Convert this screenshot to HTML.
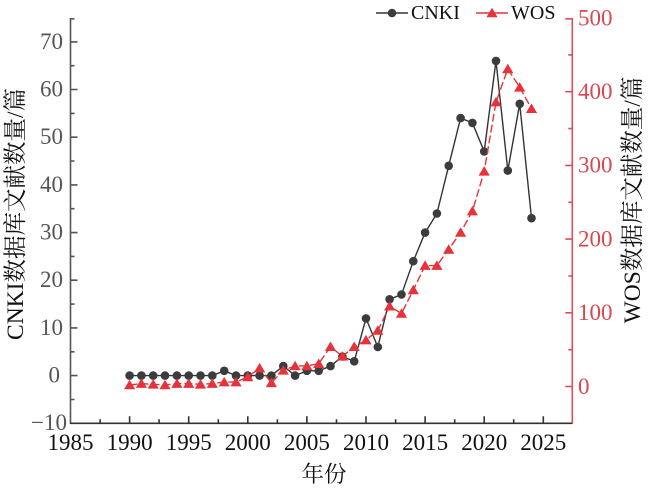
<!DOCTYPE html>
<html><head><meta charset="utf-8">
<style>
html,body{margin:0;padding:0;background:#fff;}
svg{display:block;}
text{font-family:"Liberation Serif","Noto Serif CJK SC","Noto Sans CJK SC",serif;}
</style></head>
<body>
<svg width="650" height="490" viewBox="0 0 650 490" xmlns="http://www.w3.org/2000/svg">
<rect width="650" height="490" fill="#fff"/>

<!-- left axis -->
<g stroke="#555" stroke-width="1.6" fill="none">
<line x1="70.5" y1="18" x2="70.5" y2="424"/>
<path d="M70.5 375.6h7M70.5 327.9h7M70.5 280.2h7M70.5 232.6h7M70.5 184.9h7M70.5 137.2h7M70.5 89.5h7M70.5 41.9h7
M70.5 399.5h4M70.5 351.8h4M70.5 304.1h4M70.5 256.4h4M70.5 208.7h4M70.5 161h4M70.5 113.4h4M70.5 65.7h4M70.5 18.8h4"/>
</g>
<g fill="#555" font-size="23" text-anchor="end">
<text x="63" y="49">70</text>
<text x="63" y="96.5">60</text>
<text x="63" y="144">50</text>
<text x="63" y="192">40</text>
<text x="63" y="239.5">30</text>
<text x="63" y="287">20</text>
<text x="63" y="335">10</text>
<text x="60" y="382.5">0</text>
<text x="67" y="430">−10</text>
</g>

<!-- right axis -->
<g stroke="#d9505a" stroke-width="1.6" fill="none">
<line x1="572.3" y1="18" x2="572.3" y2="424"/>
<path d="M572.3 386.5h-7M572.3 312.8h-7M572.3 239.1h-7M572.3 165.4h-7M572.3 91.7h-7M572.3 18.8h-7
M572.3 349.7h-4M572.3 276h-4M572.3 202.3h-4M572.3 128.6h-4M572.3 54.9h-4"/>
</g>
<g fill="#d9474f" font-size="23">
<text x="578" y="394">0</text>
<text x="578" y="320">100</text>
<text x="578" y="246.5">200</text>
<text x="578" y="172.5">300</text>
<text x="578" y="99">400</text>
<text x="578" y="25.5">500</text>
</g>

<!-- bottom axis -->
<g stroke="#333" stroke-width="1.6" fill="none">
<line x1="70" y1="423.3" x2="572" y2="423.3"/>
<path d="M129.6 423.3v-7M188.7 423.3v-7M247.8 423.3v-7M306.9 423.3v-7M366 423.3v-7M425.1 423.3v-7M484.2 423.3v-7M543.3 423.3v-7
M100.1 423.3v-4M159.1 423.3v-4M218.3 423.3v-4M277.4 423.3v-4M336.5 423.3v-4M395.6 423.3v-4M454.7 423.3v-4M513.7 423.3v-4"/>
</g>
<g fill="#111" font-size="23" text-anchor="middle">
<text x="70.5" y="450">1985</text>
<text x="129.6" y="450">1990</text>
<text x="188.7" y="450">1995</text>
<text x="247.8" y="450">2000</text>
<text x="306.9" y="450">2005</text>
<text x="366" y="450">2010</text>
<text x="425.1" y="450">2015</text>
<text x="484.2" y="450">2020</text>
<text x="543.3" y="450">2025</text>
</g>

<!-- axis titles -->
<text x="324" y="482" font-size="22.5" text-anchor="middle" fill="#111">年份</text>
<text transform="translate(23,214) rotate(-90)" font-size="23.5" text-anchor="middle" fill="#111">CNKI数据库文献数量/篇</text>
<text transform="translate(640,200) rotate(-90)" font-size="23.5" text-anchor="middle" fill="#111">WOS数据库文献数量/篇</text>

<!-- CNKI series -->
<polyline fill="none" stroke="#333" stroke-width="1.4" points="
129.6,375.6 141.4,375.6 153.2,375.6 165,375.6 176.9,375.6 188.7,375.6 200.5,375.6 212.3,375.6 224.2,370.8 236,375.6
247.8,375.6 259.6,375.6 271.4,375.6 283.3,366.1 295.1,375.6 306.9,370.8 318.7,370.8 330.5,366.1 342.4,356.5 354.2,361.3
366,318.4 377.8,347 389.6,299.3 401.5,294.5 413.3,261.2 425.1,232.6 436.9,213.5 448.7,165.8 460.6,118.1 472.4,122.9
484.2,151.5 496,60.9 507.8,170.6 519.7,103.8 531.5,218.2"/>
<g fill="#3c3c3c">
<circle cx="129.6" cy="375.6" r="4.3"/><circle cx="141.4" cy="375.6" r="4.3"/><circle cx="153.2" cy="375.6" r="4.3"/>
<circle cx="165" cy="375.6" r="4.3"/><circle cx="176.9" cy="375.6" r="4.3"/><circle cx="188.7" cy="375.6" r="4.3"/>
<circle cx="200.5" cy="375.6" r="4.3"/><circle cx="212.3" cy="375.6" r="4.3"/><circle cx="224.2" cy="370.8" r="4.3"/>
<circle cx="236" cy="375.6" r="4.3"/><circle cx="247.8" cy="375.6" r="4.3"/><circle cx="259.6" cy="375.6" r="4.3"/>
<circle cx="271.4" cy="375.6" r="4.3"/><circle cx="283.3" cy="366.1" r="4.3"/><circle cx="295.1" cy="375.6" r="4.3"/>
<circle cx="306.9" cy="370.8" r="4.3"/><circle cx="318.7" cy="370.8" r="4.3"/><circle cx="330.5" cy="366.1" r="4.3"/>
<circle cx="342.4" cy="356.5" r="4.3"/><circle cx="354.2" cy="361.3" r="4.3"/><circle cx="366" cy="318.4" r="4.3"/>
<circle cx="377.8" cy="347" r="4.3"/><circle cx="389.6" cy="299.3" r="4.3"/><circle cx="401.5" cy="294.5" r="4.3"/>
<circle cx="413.3" cy="261.2" r="4.3"/><circle cx="425.1" cy="232.6" r="4.3"/><circle cx="436.9" cy="213.5" r="4.3"/>
<circle cx="448.7" cy="165.8" r="4.3"/><circle cx="460.6" cy="118.1" r="4.3"/><circle cx="472.4" cy="122.9" r="4.3"/>
<circle cx="484.2" cy="151.5" r="4.3"/><circle cx="496" cy="60.9" r="4.3"/><circle cx="507.8" cy="170.6" r="4.3"/>
<circle cx="519.7" cy="103.8" r="4.3"/><circle cx="531.5" cy="218.2" r="4.3"/>
</g>

<!-- WOS series -->
<polyline fill="none" stroke="#e0353d" stroke-width="1.4" stroke-dasharray="8 3" points="
129.6,385 141.4,383.6 153.2,384.3 165,385 176.9,383.6 188.7,383.6 200.5,384.3 212.3,383.6 224.2,382.1 236,382.1
247.8,376.9 259.6,368.1 271.4,382.8 283.3,370.3 295.1,365.9 306.9,365.9 318.7,363.7 330.5,346.7 342.4,356.3 354.2,346.7
366,340.1 377.8,330.5 389.6,306.2 401.5,313.5 413.3,290 425.1,265.6 436.9,265.6 448.7,249.4 460.6,232.5 472.4,211.1
484.2,171.3 496,102.1 507.8,68.9 519.7,87.3 531.5,108.7"/>
<defs><path id="tri" d="M0 -5.2L5.6 4.3L-5.6 4.3Z"/></defs>
<g fill="#e8323a">
<use href="#tri" x="129.6" y="385"/><use href="#tri" x="141.4" y="383.6"/><use href="#tri" x="153.2" y="384.3"/>
<use href="#tri" x="165" y="385"/><use href="#tri" x="176.9" y="383.6"/><use href="#tri" x="188.7" y="383.6"/>
<use href="#tri" x="200.5" y="384.3"/><use href="#tri" x="212.3" y="383.6"/><use href="#tri" x="224.2" y="382.1"/>
<use href="#tri" x="236" y="382.1"/><use href="#tri" x="247.8" y="376.9"/><use href="#tri" x="259.6" y="368.1"/>
<use href="#tri" x="271.4" y="382.8"/><use href="#tri" x="283.3" y="370.3"/><use href="#tri" x="295.1" y="365.9"/>
<use href="#tri" x="306.9" y="365.9"/><use href="#tri" x="318.7" y="363.7"/><use href="#tri" x="330.5" y="346.7"/>
<use href="#tri" x="342.4" y="356.3"/><use href="#tri" x="354.2" y="346.7"/><use href="#tri" x="366" y="340.1"/>
<use href="#tri" x="377.8" y="330.5"/><use href="#tri" x="389.6" y="306.2"/><use href="#tri" x="401.5" y="313.5"/>
<use href="#tri" x="413.3" y="290"/><use href="#tri" x="425.1" y="265.6"/><use href="#tri" x="436.9" y="265.6"/>
<use href="#tri" x="448.7" y="249.4"/><use href="#tri" x="460.6" y="232.5"/><use href="#tri" x="472.4" y="211.1"/>
<use href="#tri" x="484.2" y="171.3"/><use href="#tri" x="496" y="102.1"/><use href="#tri" x="507.8" y="68.9"/>
<use href="#tri" x="519.7" y="87.3"/><use href="#tri" x="531.5" y="108.7"/>
</g>

<!-- legend -->
<line x1="376" y1="13" x2="408" y2="13" stroke="#333" stroke-width="1.4"/>
<circle cx="392" cy="13" r="4.3" fill="#3c3c3c"/>
<text x="411" y="19" font-size="20" fill="#111">CNKI</text>
<line x1="476" y1="13" x2="508" y2="13" stroke="#e0353d" stroke-width="1.4"/>
<use href="#tri" x="492" y="13" fill="#e8323a"/>
<text x="511" y="19" font-size="20" fill="#111">WOS</text>
</svg>
</body></html>
